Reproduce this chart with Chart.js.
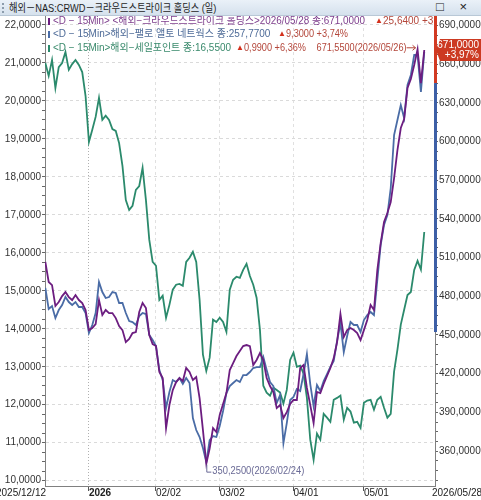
<!DOCTYPE html>
<html>
<head>
<meta charset="utf-8">
<title>해외-NAS:CRWD 크라우드스트라이크 홀딩스 (일)</title>
<script src="https://cdn.jsdelivr.net/npm/chart.js@4.4.0/dist/chart.umd.min.js"></script>
<style>
    html, body {
        margin: 0;
        padding: 0;
        background: #fff;
    }

    body {
        width: 481px;
        height: 500px;
        overflow: hidden;
        font-family: 'Liberation Sans', 'Noto Sans CJK KR', sans-serif;
    }

    #titlebar {
        position: relative;
        height: 16px;
        line-height: 16px;
        font-size: 11px;
        color: #1e1e1e;
        background: linear-gradient(#eaf1f8, #d5e1ed);
        border-bottom: 1px solid #b9c8d6;
        box-sizing: border-box;
        padding-left: 9px;
        white-space: nowrap;
    }

    #titlebar .txt {
        display: inline-block;
        transform: scaleX(0.84);
        transform-origin: left center;
    }

    #titlebar .grip {
        position: absolute;
        left: 2px;
        top: 3px;
        height: 10px;
        border-left: 2px dotted #8c9cac;
    }

    #titlebar .btns {
        position: absolute;
        right: 8px;
        top: -1px;
        font-size: 13px;
        letter-spacing: 6px;
        color: #222;
    }

    canvas {
        display: block;
    }
</style>
</head>
<body>
<div id="titlebar"><span class="grip"></span><span class="txt">해외－NAS:CRWD－크라우드스트라이크 홀딩스 (일)</span><span class="btns">□ ×</span></div>
<canvas id="chart" width="481" height="484"></canvas>

<script>
    // daily closes, 2025/12/12 .. 2026/05/28 (one value per trading day)
    const crwd = [
        506.6, 491.1, 488.7, 472.5, 475.6, 480.2, 483.3, 479.4, 477.1, 481.0,
        477.1, 474.8, 469.4, 453.8, 455.4, 458.5, 477.1, 465.5, 469.4, 467.0,
        467.0, 463.1, 456.9, 453.8, 444.5, 446.9, 451.5, 452.3, 467.8, 474.8,
        470.9, 450.0, 443.0, 441.4, 421.3, 416.6, 377.8, 395.7, 407.3, 413.5,
        416.6, 414.3, 424.4, 421.3, 415.1, 417.4, 401.1, 376.3, 350.25, 362.0,
        377.8, 374.7, 387.9, 396.5, 405.0, 422.8, 428.2, 433.7, 437.6, 441.4,
        442.2, 441.4, 426.7, 430.6, 436.0, 430.6, 416.6, 410.4, 405.8, 393.3,
        395.7, 385.6, 390.2, 396.5, 399.6, 399.6, 424.4, 426.7, 408.9, 395.7,
        381.7, 405.8, 405.0, 412.0, 418.2, 424.4, 432.1, 444.5, 466.3, 448.4,
        453.8, 455.4, 453.8, 451.5, 446.1, 453.8, 461.6, 473.2, 469.4, 500.4,
        521.3, 537.6, 544.6, 553.1, 571.7, 593.4, 610.5, 617.5, 641.5, 648.5,
        659.4, 671.55, 645.36, 671.0
    ];

    const panw = [
        202.90, 198.02, 198.71, 195.92, 197.78, 198.95, 200.81, 199.64, 198.95, 199.64,
        198.48, 198.48, 197.09, 192.44, 194.30, 197.09, 204.29, 201.97, 200.57, 200.81,
        201.97, 201.74, 199.41, 199.41, 197.09, 195.23, 194.99, 194.30, 196.39, 197.09,
        196.85, 191.97, 190.81, 189.41, 183.83, 181.51, 175.00, 178.72, 181.51, 181.04,
        181.97, 180.58, 181.97, 180.81, 172.67, 169.88, 168.26, 165.70, 162.44, 167.56,
        168.49, 168.26, 170.81, 174.30, 178.49, 180.11, 180.81, 181.51, 181.04, 182.67,
        182.67, 183.37, 184.30, 184.53, 184.53, 186.86, 183.83, 181.04, 180.11, 176.16,
        178.02, 166.86, 171.51, 176.86, 177.56, 179.42, 178.95, 182.90, 187.55, 180.58,
        175.46, 180.35, 178.95, 181.28, 182.90, 184.53, 185.93, 190.58, 194.76, 188.02,
        191.74, 194.99, 194.30, 194.30, 192.67, 195.46, 196.62, 197.32, 196.62, 204.76,
        212.90, 217.55, 219.87, 226.15, 238.47, 241.96, 245.45, 242.42, 250.10, 252.42,
        257.07, 257.07, 248.47, 257.77
    ];

    const sail = [
        21.00, 20.66, 21.08, 20.34, 20.89, 21.00, 21.29, 20.82, 20.97, 21.08,
        20.95, 20.76, 20.13, 18.92, 19.24, 19.58, 20.08, 19.50, 19.61, 19.50,
        19.26, 19.21, 18.89, 18.29, 17.39, 17.13, 17.24, 17.66, 17.76, 18.24,
        17.39, 16.34, 15.76, 15.66, 14.76, 14.87, 14.29, 14.63, 15.03, 15.16,
        15.18, 15.13, 15.76, 15.87, 16.03, 15.76, 14.76, 13.32, 12.89, 13.24,
        14.24, 14.18, 14.29, 14.18, 13.92, 15.03, 15.29, 15.37, 15.34, 15.55,
        15.71, 15.39, 15.16, 14.82, 13.97, 12.50, 12.32, 12.24, 12.45, 12.39,
        12.32, 12.03, 12.39, 13.18, 13.37, 13.00, 13.03, 12.82, 12.18, 11.08,
        10.55, 11.24, 11.08, 11.76, 11.66, 11.55, 12.13, 12.18, 12.24, 11.61,
        11.92, 11.82, 11.53, 11.55, 11.39, 12.05, 12.11, 12.13, 11.87, 12.13,
        12.21, 11.92, 11.66, 11.76, 12.87, 13.45, 14.11, 14.50, 14.89, 14.97,
        15.55, 15.79, 15.56, 16.55
    ];

    // x axis: trading-day index of each labelled date
    const xTickIndex = [13, 33, 52, 74, 95];
    const xTickLabels = ['2026', '02/02', '03/02', '04/01', '05/01'];
    const firstDate = '2025/12/12';
    const lastDate = '2026/05/28';
    const maxDate = '2026/05/26';
    const minDate = '2026/02/24';

    const leftTicks = [10, 11, 12, 13, 14, 15, 16, 17, 18, 19, 20, 21, 22];
    const rightTicks = [360, 390, 420, 450, 480, 510, 540, 570, 600, 630, 660, 690];
    const bandLow = 452.3;

    const COL = {
        crwd: '#6c1d80',
        panw: '#4a6ca6',
        sail: '#2b8a6c',
        up: '#d4301c',
        upText: '#b3463a',
        crwdText: '#7d3d8c',
        panwText: '#4e6b98',
        sailText: '#3a8a6c'
    };
    const FONT = "'Liberation Sans', 'Noto Sans CJK KR', sans-serif";

    const fmt = v => v.toFixed(4).replace('.', ',');
    const pct = (a, b) => ((a - b) / b * 100).toFixed(2).replace('.', ',');
    const pts = arr => arr.map((v, i) => ({x: i, y: v}));

    // major ticks plus 4 subdivisions, kept inside lo..hi
    function withMinors(majors, lo, hi) {
        const step = (majors[1] - majors[0]) / 4;
        const out = [];
        for (let v = majors[0] - step * 4; v <= majors[majors.length - 1] + 1e-9; v += step) {
            if (v >= lo && v <= hi) out.push({value: +v.toFixed(4)});
        }
        return out;
    }
    const isMajor = (majors, v) => majors.some(m => Math.abs(m - v) < 1e-6);

    const noPad = s => {
        s.paddingTop = 0;
        s.paddingBottom = 0;
        s.paddingLeft = 0;
        s.paddingRight = 0;
    };

    const overlay = {
        id: 'overlay',
        afterDatasetsDraw(chart) {
            const {ctx, chartArea: a, scales} = chart;
            const yR = scales.yR, x = scales.x;
            const n = crwd.length;

            const rows = [
                {
                    mark: COL.crwd, color: COL.crwdText, y: 5, w: 312, cx: 375, cw: 90,
                    main: `<D − 15Min> <해외−크라우드스트라이크 홀딩스>${lastDate} 종:${fmt(crwd[n - 1])}`,
                    chg: `${fmt(crwd[n - 1] - crwd[n - 2])} +${pct(crwd[n - 1], crwd[n - 2])}%`
                },
                {
                    mark: COL.panw, color: COL.panwText, y: 18, w: 222, cx: 278, cw: 62,
                    main: `<D − 15Min>해외−팰로 앨토 네트웍스 종:${fmt(panw[n - 1])}`,
                    chg: `${fmt(panw[n - 1] - panw[n - 2])} +${pct(panw[n - 1], panw[n - 2])}%`
                },
                {
                    mark: COL.sail, color: COL.sailText, y: 32, w: 178, cx: 236, cw: 62,
                    main: `<D − 15Min>해외−세일포인트 종:${fmt(sail[n - 1])}`,
                    chg: `${fmt(sail[n - 1] - sail[n - 2])} +${pct(sail[n - 1], sail[n - 2])}%`
                }
            ];

            ctx.save();
            ctx.beginPath();
            ctx.rect(a.left, 0, a.right - a.left, a.bottom);
            ctx.clip();
            ctx.textBaseline = 'middle';
            ctx.textAlign = 'left';
            rows.forEach(r => {
                ctx.fillStyle = r.mark;
                ctx.fillRect(a.left + 3, r.y - 3, 2, 7);
                ctx.font = '10px ' + FONT;
                ctx.fillStyle = r.color;
                ctx.fillText(r.main, a.left + 8, r.y, r.w);
                ctx.font = '8px ' + FONT;
                ctx.fillStyle = COL.up;
                ctx.fillText('▲', r.cx, r.y);
                ctx.font = '10px ' + FONT;
                ctx.fillStyle = COL.upText;
                ctx.fillText(r.chg, r.cx + 8, r.y, r.cw);
            });

            // high marker
            const hi = Math.max(...crwd);
            const hx = x.getPixelForValue(crwd.indexOf(hi));
            const hy = yR.getPixelForValue(hi);
            ctx.strokeStyle = COL.upText;
            ctx.lineWidth = 1;
            ctx.beginPath();
            ctx.moveTo(hx - 11, hy - 1.5);
            ctx.lineTo(hx - 2, hy - 1.5);
            ctx.moveTo(hx - 5, hy - 4);
            ctx.lineTo(hx - 2, hy - 1.5);
            ctx.lineTo(hx - 5, hy + 1);
            ctx.stroke();
            ctx.fillStyle = COL.upText;
            ctx.textAlign = 'right';
            ctx.fillText(`${fmt(hi)}(${maxDate})`, hx - 11, hy - 1, 90);

            // low marker
            const lo = Math.min(...crwd);
            const lx = x.getPixelForValue(crwd.indexOf(lo));
            const ly = yR.getPixelForValue(lo);
            ctx.strokeStyle = '#6a6a96';
            ctx.beginPath();
            ctx.moveTo(lx + 0.5, ly + 1);
            ctx.lineTo(lx + 0.5, ly + 8.5);
            ctx.lineTo(lx + 5, ly + 8.5);
            ctx.stroke();
            ctx.fillStyle = '#6a6a96';
            ctx.textAlign = 'left';
            ctx.fillText(`${fmt(lo)}(${minDate})`, lx + 6, ly + 8, 92);
            ctx.restore();
        },
        afterDraw(chart) {
            const {ctx, chartArea: a, scales} = chart;
            const yR = scales.yR;
            const n = crwd.length;

            // band on right axis
            const yPrev = yR.getPixelForValue(crwd[n - 2]);
            ctx.save();
            ctx.fillStyle = '#d23a22';
            ctx.fillRect(a.right - 1, a.top, 3, yPrev - a.top);
            ctx.fillStyle = '#3d5fa6';
            ctx.fillRect(a.right - 1, yPrev, 3, yR.getPixelForValue(bandLow) - yPrev);

            // current price tag
            const py = yR.getPixelForValue(crwd[n - 1]);
            ctx.fillStyle = '#cc3a22';
            ctx.beginPath();
            ctx.moveTo(a.right + 1, py);
            ctx.lineTo(a.right + 5, py - 11);
            ctx.lineTo(481, py - 11);
            ctx.lineTo(481, py + 11);
            ctx.lineTo(a.right + 5, py + 11);
            ctx.closePath();
            ctx.fill();
            ctx.fillStyle = '#fff';
            ctx.font = '10px ' + FONT;
            ctx.textAlign = 'right';
            ctx.textBaseline = 'middle';
            ctx.fillText(fmt(crwd[n - 1]), 479, py - 5);
            ctx.fillText(`+${pct(crwd[n - 1], crwd[n - 2])}%`, 479, py + 5);

            // first / last date under the axis
            ctx.fillStyle = '#222';
            ctx.textAlign = 'right';
            ctx.fillText(firstDate, a.left + 1, a.bottom + 7.5);
            ctx.textAlign = 'left';
            ctx.fillText(lastDate, a.right - 3, a.bottom + 7.5);
            ctx.restore();
        }
    };

    const ctx = document.getElementById('chart').getContext('2d');
    new Chart(ctx, {
        type: 'line',
        data: {
            datasets: [
                {
                    label: '크라우드스트라이크 홀딩스',
                    data: pts(crwd),
                    yAxisID: 'yR',
                    borderColor: COL.crwd,
                    borderWidth: 1.8,
                    pointRadius: 0,
                    order: 1
                },
                {
                    label: '팰로 앨토 네트웍스',
                    data: pts(panw),
                    yAxisID: 'yP',
                    borderColor: COL.panw,
                    borderWidth: 1.8,
                    pointRadius: 0,
                    order: 2
                },
                {
                    label: '세일포인트',
                    data: pts(sail),
                    yAxisID: 'yL',
                    borderColor: COL.sail,
                    borderWidth: 1.8,
                    pointRadius: 0,
                    order: 3
                }
            ]
        },
        options: {
            responsive: false,
            animation: false,
            layout: {padding: 0},
            plugins: {
                legend: {display: false},
                tooltip: {enabled: false}
            },
            scales: {
                x: {
                    type: 'linear',
                    min: -0.1,
                    max: 116.2,
                    afterBuildTicks: s => { s.ticks = xTickIndex.map(v => ({value: v})); },
                    afterFit: s => { s.height = 14; noPad(s); },
                    ticks: {
                        autoSkip: false,
                        maxRotation: 0,
                        align: 'start',
                        padding: -3,
                        color: '#222',
                        font: c => ({
                            family: FONT,
                            size: 10,
                            lineHeight: 1,
                            weight: c.tick && c.tick.value === xTickIndex[0] ? 'bold' : 'normal'
                        }),
                        callback: v => xTickLabels[xTickIndex.indexOf(v)] || ''
                    },
                    grid: {
                        color: c => c.tick && c.tick.value === xTickIndex[0] ? '#b0b0b0' : '#e0e0e0',
                        tickColor: '#555',
                        tickLength: 5
                    },
                    border: {
                        color: '#808080',
                        dash: c => c.tick && c.tick.value === xTickIndex[0] ? [1, 2] : [3, 3]
                    }
                },
                yL: {
                    position: 'left',
                    min: 9.86,
                    max: 22.237,
                    afterBuildTicks: s => { s.ticks = withMinors(leftTicks, s.min, s.max); },
                    afterFit: s => { s.width = 45; noPad(s); },
                    ticks: {
                        autoSkip: false,
                        padding: 1,
                        color: '#333',
                        font: {family: FONT, size: 10},
                        callback: v => isMajor(leftTicks, v) ? fmt(v) : ''
                    },
                    grid: {
                        color: c => c.tick && isMajor(leftTicks, c.tick.value) ? '#dadada' : 'transparent',
                        tickColor: '#666',
                        tickLength: 3
                    },
                    border: {color: '#808080', dash: [3, 3]}
                },
                yR: {
                    position: 'right',
                    min: 332.9,
                    max: 697.37,
                    afterBuildTicks: s => { s.ticks = withMinors(rightTicks, s.min, s.max); },
                    afterFit: s => { s.width = 46; noPad(s); },
                    ticks: {
                        autoSkip: false,
                        padding: 1,
                        color: '#333',
                        font: {family: FONT, size: 10},
                        callback: v => isMajor(rightTicks, v) ? fmt(v) : ''
                    },
                    grid: {
                        drawOnChartArea: false,
                        color: 'transparent',
                        tickColor: '#666',
                        tickLength: 3
                    },
                    border: {color: '#808080'}
                },
                yP: {
                    display: false,
                    min: 156.87,
                    max: 266.14
                }
            }
        },
        plugins: [overlay]
    });
</script>
</body>
</html>
